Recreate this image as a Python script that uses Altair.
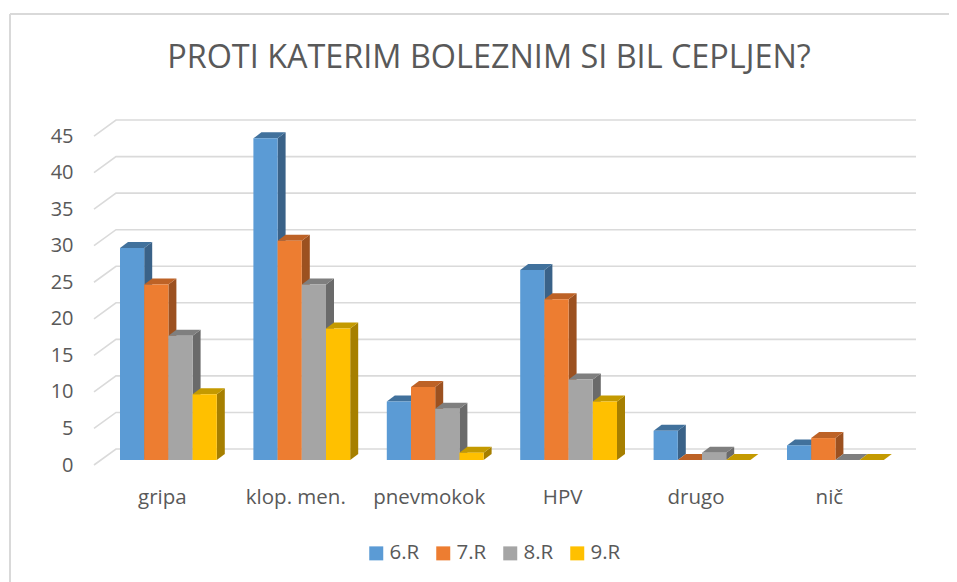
import json
import altair as alt
import pandas as pd

categories = ["gripa", "klop. men.", "pnevmokok", "HPV", "drugo", "nič"]
series = ["6.R", "7.R", "8.R", "9.R"]
values_6r = [29, 44, 8, 26, 4, 2]
values_7r = [24, 30, 10, 22, 0, 3]
values_8r = [17, 24, 7, 11, 1, 0]
values_9r = [9, 18, 1, 8, 0, 0]
front_colors = ["#5B9BD5", "#ED7D31", "#A5A5A5", "#FFC000"]
top_colors = ["#41719C", "#BD6226", "#7F7F7F", "#C49A00"]
side_colors = ["#3A6288", "#9C5120", "#6A6A6A", "#A67F00"]
y_ticks = [0, 5, 10, 15, 20, 25, 30, 35, 40, 45]

all_values = [values_6r, values_7r, values_8r, values_9r]

PW, PH = 822, 345
PX_X = 133.4                # pixels per category
PX_Y = 7.31                 # pixels per value unit
X_MAX = PW / PX_X
Y_MAX = PH / PX_Y
BAR = 24.2 / PX_X
DX = 8 / PX_X
DY = 6 / PX_Y
BASE = 5 / PX_Y
X0 = 26 / PX_X
WALL_X = 22 / PX_X
WALL_Y = 16 / PX_Y
LABEL_SHIFT = 6.5 / PX_X

xs = alt.Scale(domain=[0, X_MAX], nice=False, zero=False)
ys = alt.Scale(domain=[0, Y_MAX], nice=False, zero=False)

centers = [i + X0 + 2 * BAR - LABEL_SHIFT for i in range(len(categories))]
label_expr = json.dumps(categories) + "[floor(datum.value)]"

x_axis = alt.Axis(values=centers, labelExpr=label_expr, grid=False, domain=False, ticks=False,
                  title=None, labelFont="Open Sans", labelFontSize=20.5, labelColor="#595959",
                  labelPadding=22, labelOverlap=False, labelFlush=False)
y_axis = alt.Axis(values=y_ticks, grid=False, domain=False, ticks=False, title=None,
                  labelFont="Open Sans", labelFontSize=20, labelColor="#595959",
                  labelPadding=21, labelOverlap=False, labelFlush=False)

grid_rows = []
for t in y_ticks:
    grid_rows += [{"t": t, "gx": 0, "gy": t},
                  {"t": t, "gx": WALL_X, "gy": t + WALL_Y},
                  {"t": t, "gx": X_MAX, "gy": t + WALL_Y}]
grid = alt.Chart(pd.DataFrame(grid_rows)).mark_line(color="#DADADA", strokeWidth=1.6).encode(
    x=alt.X("gx:Q", scale=xs, axis=x_axis),
    y=alt.Y("gy:Q", scale=ys, axis=y_axis),
    detail="t:N")

layers = [grid]
for s_i, name in enumerate(series):
    fronts, sides, tops = [], [], []
    for c_i, cat in enumerate(categories):
        v = all_values[s_i][c_i]
        x0 = c_i + X0 + s_i * BAR
        x1 = x0 + BAR
        top = BASE + v
        fronts.append({"series": name, "cat": cat, "x0": x0, "x1": x1, "y0": BASE, "y1": top})
        sides += [{"b": cat, "px": x1, "low": BASE, "high": top},
                  {"b": cat, "px": x1 + DX, "low": BASE + DY, "high": top + DY}]
        tops += [{"b": cat, "px": x0, "low": top, "high": top},
                 {"b": cat, "px": x0 + DX, "low": top, "high": top + DY},
                 {"b": cat, "px": x1, "low": top, "high": top + DY},
                 {"b": cat, "px": x1 + DX, "low": top + DY, "high": top + DY}]
    for rows, col in ((sides, side_colors[s_i]), (tops, top_colors[s_i])):
        layers.append(alt.Chart(pd.DataFrame(rows)).mark_area(color=col, opacity=1).encode(
            x=alt.X("px:Q", scale=xs, axis=x_axis),
            y=alt.Y("low:Q", scale=ys, axis=y_axis, stack=None),
            y2="high:Q", detail="b:N"))
    layers.append(alt.Chart(pd.DataFrame(fronts)).mark_bar().encode(
        x=alt.X("x0:Q", scale=xs, axis=x_axis),
        x2="x1:Q",
        y=alt.Y("y0:Q", scale=ys, axis=y_axis),
        y2="y1:Q",
        color=alt.Color("series:N",
                        scale=alt.Scale(domain=series, range=front_colors),
                        legend=alt.Legend(orient="none", direction="horizontal", title=None,
                                          legendX=272, legendY=423, symbolType="square", symbolSize=196,
                                          symbolStrokeWidth=0, labelFont="Open Sans", labelFontSize=20.5,
                                          labelColor="#595959", columnPadding=13, labelOffset=3))))

# outer frame of the chart
one = pd.DataFrame({"a": [0]})
frame = alt.Chart(one).mark_rule(color="#D9D9D9", strokeWidth=2).encode(
    x=alt.value(-84), y=alt.value(-106), y2=alt.value(462))
frame_top = alt.Chart(one).mark_rule(color="#D9D9D9", strokeWidth=2).encode(
    x=alt.value(-84), x2=alt.value(855), y=alt.value(-106))

chart = alt.layer(frame, frame_top, *layers).properties(
    width=PW, height=PH,
    title=alt.TitleParams("PROTI KATERIM BOLEZNIM SI BIL CEPLJEN?", font="Open Sans", fontSize=32.4,
                          fontWeight="normal", color="#595959", anchor="middle", dx=-16, offset=-61),
    padding={"left": 86, "top": 112, "right": 33, "bottom": 117},
    autosize=alt.AutoSizeParams(type="none"),
).configure_view(stroke=None)

chart.save("out.html", embed_options={"renderer": "svg", "actions": False})
